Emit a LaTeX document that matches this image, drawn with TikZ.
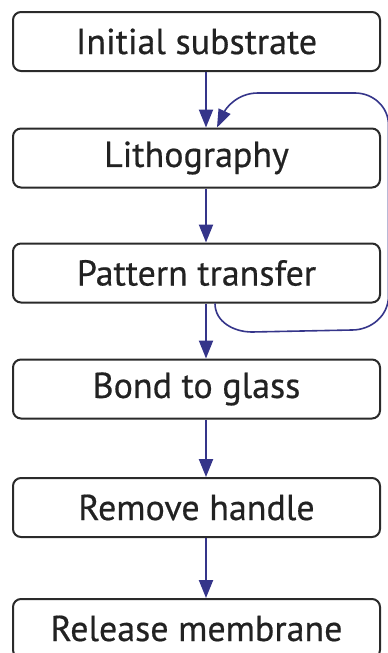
\documentclass[tikz,border=0pt]{standalone}
\usepackage{fontspec}
\setmainfont{PT Sans}
\newfontfamily\boxfont[FakeBold=0.5]{PT Sans}
\usetikzlibrary{arrows.meta}
\definecolor{arrowblue}{HTML}{35358A}
\definecolor{boxline}{HTML}{2A2A2A}
\definecolor{txt}{HTML}{222222}
\tikzset{
  stepbox/.style={draw=boxline, line width=2pt, rounded corners=8pt, minimum width=367pt, minimum height=59pt, inner sep=0pt, text=txt, font=\boxfont\fontsize{36}{40}\selectfont},
  flow/.style={draw=arrowblue, line width=2.2pt, -{Triangle[length=18pt,width=14pt]}},
  loopline/.style={draw=arrowblue, line width=1.6pt, -{Triangle[length=18pt,width=13pt]}}
}
\begin{document}
\begin{tikzpicture}[x=1pt,y=1pt]
\useasboundingbox (0,0) rectangle (388,-653);
\node[stepbox] (b1) at (196.5,-41.5) {Initial substrate};
\node[stepbox] (b2) at (196.5,-158) {Lithography};
\node[stepbox] (b3) at (196.5,-273) {Pattern transfer};
\node[stepbox] (b4) at (196.5,-389) {Bond to glass};
\node[stepbox] (b5) at (196.5,-507.5) {Remove handle};
\node[stepbox] (b6) at (196.5,-628.5) {Release membrane};
\draw[flow] (b1.south -| 206,0) -- (b2.north -| 206,0);
\draw[flow] (b2.south -| 206,0) -- (b3.north -| 206,0);
\draw[flow] (b3.south -| 206,0) -- (b4.north -| 206,0);
\draw[flow] (b4.south -| 206,0) -- (b5.north -| 206,0);
\draw[flow] (b5.south -| 206,0) -- (b6.north -| 206,0);
\coordinate (ls) at (b3.south -| 215,0);
\coordinate (le) at (b2.north -| 217,0);
\draw[loopline] (ls) to[out=-90,in=180] (252,-332) -- (352,-330) to[out=0,in=-90] (388.5,-296) -- (388.5,-125) to[out=90,in=0] (355,-93) -- (258,-93) to[out=180,in=65] (le);
\end{tikzpicture}
\end{document}
